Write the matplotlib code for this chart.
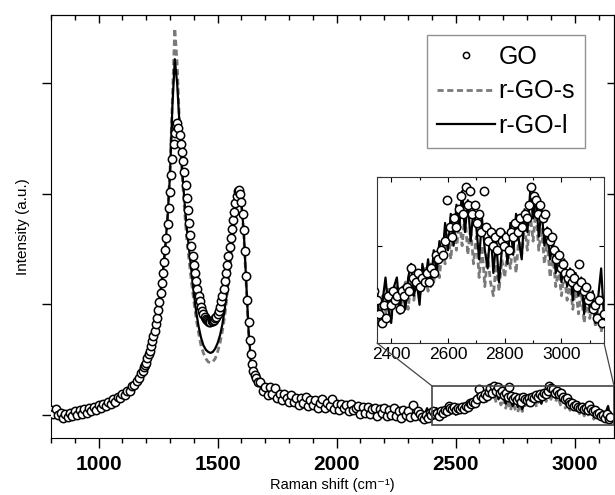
import numpy as np
import matplotlib
matplotlib.use('Agg')
import matplotlib.pyplot as plt
from matplotlib.ticker import MultipleLocator, NullFormatter
from matplotlib.patches import Rectangle, ConnectionPatch

plt.rcParams['font.family'] = ['Liberation Sans', 'DejaVu Sans']

# Raman shift sample grids (cm^-1), finer across the D/G band region
go_x = np.concatenate([np.arange(800, 1181, 10), np.arange(1185, 1661, 5),
                       np.arange(1670, 2341, 10), np.arange(2350, 3151, 8)])
rgo_x = np.concatenate([np.arange(800, 1181, 20), np.arange(1190, 1661, 10),
                        np.arange(1680, 2341, 20), np.arange(2350, 3151, 10)])

# GO intensities (a.u.)
go_a = [0.04, 0.01, 0.05, 0.00, 0.02, -0.03, 0.01, -0.02, 0.02, -0.01,
        0.03, 0.00, 0.04, 0.01, 0.05, 0.02, 0.06, 0.03, 0.07, 0.04,
        0.09, 0.06, 0.10, 0.08, 0.12, 0.10, 0.14, 0.12, 0.16, 0.15,
        0.19, 0.18, 0.22, 0.22, 0.26, 0.27, 0.31, 0.33, 0.38]
go_b = [0.40, 0.43, 0.45, 0.47, 0.51, 0.55, 0.58, 0.62, 0.67, 0.71,
        0.76, 0.82, 0.88, 0.95, 1.02, 1.10, 1.19, 1.28, 1.38, 1.49,
        1.60, 1.73, 1.87, 2.02, 2.17, 2.32, 2.45, 2.55, 2.62, 2.64,
        2.60, 2.53, 2.45, 2.38, 2.30, 2.20, 2.08, 1.96, 1.85, 1.74,
        1.63, 1.53, 1.44, 1.36, 1.28, 1.21, 1.14, 1.08, 1.03, 0.98,
        0.94, 0.91, 0.89, 0.87, 0.86, 0.85, 0.84, 0.84, 0.85, 0.85,
        0.86, 0.88, 0.89, 0.91, 0.94, 0.98, 1.03, 1.08, 1.14, 1.21,
        1.28, 1.36, 1.44, 1.52, 1.60, 1.68, 1.76, 1.84, 1.92, 1.98,
        2.03, 2.04, 2.00, 1.93, 1.82, 1.67, 1.48, 1.26, 1.04, 0.84,
        0.68, 0.55, 0.46, 0.40, 0.36, 0.33]
go_c = [0.30, 0.30, 0.22, 0.25, 0.18, 0.25, 0.19, 0.24, 0.15, 0.19,
        0.13, 0.19, 0.15, 0.12, 0.18, 0.12, 0.15, 0.09, 0.15, 0.11,
        0.16, 0.08, 0.13, 0.09, 0.13, 0.06, 0.11, 0.14, 0.06, 0.11,
        0.08, 0.14, 0.05, 0.10, 0.04, 0.10, 0.06, 0.09, 0.03, 0.10,
        0.04, 0.06, 0.08, 0.01, 0.07, 0.02, 0.07, 0.01, 0.05, 0.06,
        -0.01, 0.05, 0.02, 0.06, -0.01, 0.04, 0.00, 0.06, -0.01, 0.03,
        -0.03, 0.04, 0.00, 0.03, -0.02, 0.09, -0.01, 0.03]
go_d = [0.01, -0.02, -0.04, 0.00, -0.03, 0.02, 0.00, 0.03, 0.01, 0.02,
        -0.01, 0.03, 0.02, 0.04, 0.03, 0.08, 0.06, 0.05, 0.07, 0.04,
        0.06, 0.05, 0.07, 0.05, 0.08, 0.07, 0.11, 0.10, 0.12, 0.11,
        0.14, 0.23, 0.17, 0.15, 0.19, 0.17, 0.21, 0.24, 0.20, 0.26,
        0.22, 0.25, 0.20, 0.22, 0.18, 0.20, 0.16, 0.25, 0.17, 0.14,
        0.16, 0.13, 0.15, 0.12, 0.16, 0.14, 0.13, 0.15, 0.12, 0.16,
        0.15, 0.18, 0.16, 0.19, 0.17, 0.20, 0.19, 0.22, 0.26, 0.24,
        0.23, 0.20, 0.22, 0.19, 0.20, 0.16, 0.14, 0.15, 0.12, 0.10,
        0.11, 0.08, 0.09, 0.07, 0.06, 0.07, 0.05, 0.06, 0.04, 0.09,
        0.05, 0.03, 0.04, 0.01, 0.02, -0.01, 0.00, -0.03, 0.01, -0.04,
        -0.02]

# r-GO-l intensities
rgol_a = [0.02, 0.01, -0.01, 0.00, 0.00, 0.02, 0.02, 0.03, 0.05, 0.06,
          0.07, 0.09, 0.10, 0.13, 0.15, 0.18, 0.21, 0.26, 0.31, 0.38]
rgol_b = [0.42, 0.47, 0.55, 0.63, 0.72, 0.83, 0.96, 1.12, 1.30, 1.52,
          1.80, 2.18, 2.80, 3.22, 3.00, 2.62, 2.25, 1.95, 1.70, 1.50,
          1.30, 1.10, 0.93, 0.80, 0.70, 0.63, 0.59, 0.57, 0.56, 0.57,
          0.60, 0.65, 0.72, 0.82, 0.96, 1.13, 1.34, 1.57, 1.78, 1.95,
          2.02, 1.92, 1.65, 1.20, 0.76, 0.48, 0.36, 0.30]
rgol_c = [0.26, 0.21, 0.19, 0.16, 0.15, 0.13, 0.11, 0.10, 0.09, 0.08,
          0.07, 0.08, 0.06, 0.07, 0.05, 0.06, 0.05, 0.04, 0.05, 0.03,
          0.04, 0.02, 0.03, 0.02, 0.02, 0.01, 0.02, 0.00, 0.01, 0.00,
          0.01, -0.01, 0.07, 0.00]
rgol_d = [0.03, -0.04, 0.01, 0.06, -0.01, -0.04, 0.04, 0.06, -0.01, 0.04,
          -0.01, 0.06, 0.09, 0.02, 0.05, 0.00, 0.09, 0.05, 0.10, 0.04,
          0.12, 0.07, 0.14, 0.10, 0.18, 0.12, 0.20, 0.13, 0.22, 0.17,
          0.25, 0.16, 0.23, 0.14, 0.21, 0.17, 0.10, 0.19, 0.12, 0.08,
          0.17, 0.07, 0.14, 0.05, 0.12, 0.16, 0.09, 0.18, 0.11, 0.20,
          0.14, 0.10, 0.21, 0.16, 0.25, 0.19, 0.24, 0.15, 0.21, 0.13,
          0.17, 0.10, 0.14, 0.07, 0.12, 0.05, 0.10, 0.04, 0.08, 0.01,
          0.07, 0.02, 0.06, -0.02, 0.04, -0.01, 0.03, -0.04, 0.02, 0.08,
          -0.03]

# r-GO-s intensities
rgos_a = [0.03, 0.02, 0.00, -0.01, 0.01, 0.01, 0.03, 0.03, 0.04, 0.06,
          0.06, 0.08, 0.10, 0.12, 0.14, 0.17, 0.20, 0.25, 0.30, 0.37]
rgos_b = [0.41, 0.46, 0.53, 0.61, 0.70, 0.81, 0.94, 1.10, 1.28, 1.50,
          1.80, 2.22, 2.85, 3.50, 3.18, 2.62, 2.20, 1.88, 1.60, 1.40,
          1.20, 1.03, 0.87, 0.74, 0.63, 0.56, 0.51, 0.48, 0.47, 0.48,
          0.51, 0.57, 0.65, 0.76, 0.90, 1.08, 1.30, 1.54, 1.76, 1.94,
          2.02, 1.90, 1.62, 1.17, 0.74, 0.46, 0.34, 0.28]
rgos_c = [0.25, 0.20, 0.18, 0.15, 0.14, 0.12, 0.10, 0.09, 0.08, 0.07,
          0.06, 0.07, 0.05, 0.06, 0.04, 0.05, 0.04, 0.03, 0.04, 0.02,
          0.03, 0.01, 0.02, 0.01, 0.01, 0.00, 0.01, -0.01, 0.00, -0.01,
          0.00, -0.02, 0.02, -0.01]
rgos_d = [0.01, -0.05, 0.02, -0.02, 0.04, -0.03, 0.01, 0.04, -0.02, 0.02,
          0.05, -0.01, 0.06, 0.01, 0.07, 0.02, 0.05, 0.08, 0.03, 0.09,
          0.05, 0.11, 0.06, 0.13, 0.09, 0.16, 0.10, 0.17, 0.12, 0.19,
          0.13, 0.20, 0.11, 0.17, 0.09, 0.15, 0.06, 0.13, 0.04, 0.11,
          0.05, 0.02, 0.09, 0.03, 0.10, 0.06, 0.12, 0.08, 0.14, 0.07,
          0.15, 0.11, 0.17, 0.12, 0.20, 0.14, 0.21, 0.12, 0.17, 0.09,
          0.14, 0.06, 0.11, 0.04, 0.08, 0.02, 0.07, 0.01, 0.05, -0.01,
          0.04, -0.02, 0.03, -0.04, 0.01, -0.03, 0.02, -0.05, 0.00, -0.06,
          -0.02]

go_y = np.array(go_a + go_b + go_c + go_d)
rgol_y = np.array(rgol_a + rgol_b + rgol_c + rgol_d)
rgos_y = np.array(rgos_a + rgos_b + rgos_c + rgos_d)

XMIN, XMAX = 800, 3165
ZOOM_X = (2400, XMAX)
ZOOM_Y = (-0.09, 0.262)


def draw_series(ax, ms):
    ax.plot(rgo_x, rgos_y, color='#7a7a7a', lw=2.0, ls=(0, (2.2, 1.3)), label='r-GO-s', zorder=2)
    ax.plot(rgo_x, rgol_y, color='black', lw=1.6, label='r-GO-l', zorder=3)
    ax.plot(go_x, go_y, ls='none', marker='o', ms=ms, mfc='white', mec='black',
            mew=1.1, label='GO', zorder=4)


fig = plt.figure(figsize=(6.15, 4.95), dpi=100)
ax = fig.add_axes([51 / 615, 57 / 495, 563 / 615, 423 / 495])
draw_series(ax, 6.0)
ax.set_xlim(XMIN, XMAX)
ax.set_ylim(-0.21, 3.62)

ax.xaxis.set_major_locator(MultipleLocator(500))
ax.xaxis.set_minor_locator(MultipleLocator(100))
ax.set_yticks([0, 1, 2, 3])
ax.set_yticklabels([])
ax.tick_params(axis='x', which='major', direction='out', length=7, width=1, pad=5.5,
               labelsize=15)
ax.tick_params(axis='x', which='minor', direction='out', length=3.5, width=1)
ax.tick_params(axis='y', direction='out', length=6.5, width=1)
for lab in ax.get_xticklabels():
    lab.set_fontweight('bold')

top = ax.secondary_xaxis('top')
top.xaxis.set_major_locator(MultipleLocator(500))
top.xaxis.set_minor_locator(MultipleLocator(100))
top.xaxis.set_major_formatter(NullFormatter())
top.tick_params(which='major', direction='in', length=6, width=1)
top.tick_params(which='minor', direction='in', length=3.5, width=1)

right = ax.secondary_yaxis('right')
right.set_yticks([0, 1, 2, 3])
right.yaxis.set_major_formatter(NullFormatter())
right.tick_params(direction='in', length=5, width=1)

ax.set_xlabel('Raman shift (cm\u207b\u00b9)', fontsize=10.5)
ax.xaxis.set_label_coords(0.5, -0.094)
ax.set_ylabel('Intensity (a.u.)', fontsize=11, labelpad=5)

leg = ax.legend(handles=[ax.lines[2], ax.lines[0], ax.lines[1]],
                loc='upper right', bbox_to_anchor=(0.9485, 0.953), borderaxespad=0,
                fontsize=18, frameon=True, fancybox=False, edgecolor='#777777',
                handlelength=2.3, handletextpad=0.15, labelspacing=0.42,
                borderpad=0.4, markerscale=0.75, numpoints=1)
leg.get_frame().set_linewidth(1.0)

# zoom box on the main plot
ax.add_patch(Rectangle((ZOOM_X[0], ZOOM_Y[0]), ZOOM_X[1] - ZOOM_X[0], ZOOM_Y[1] - ZOOM_Y[0],
                       fill=False, ec='#444444', lw=1.2, zorder=5))

# inset
inax = fig.add_axes([377 / 615, 152 / 495, 227 / 615, 166 / 495])
draw_series(inax, 6.0)
inax.set_xlim(2350, 3150)
inax.set_ylim(-0.084, 0.281)
inax.xaxis.set_major_locator(MultipleLocator(200))
inax.xaxis.set_minor_locator(MultipleLocator(100))
inax.set_yticks([-0.02, 0.13, 0.28])
inax.set_yticklabels([])
inax.tick_params(which='both', direction='in', top=True, right=True, width=0.8,
                 labelsize=12.5, pad=3)
inax.tick_params(which='major', length=3.5)
inax.tick_params(which='minor', length=2)
for sp in inax.spines.values():
    sp.set_color('#333333')

for xa, xb in [((0, 0), (ZOOM_X[0], ZOOM_Y[1])), ((1, 0), (ZOOM_X[1], ZOOM_Y[1]))]:
    con = ConnectionPatch(xyA=xa, coordsA=inax.transAxes, xyB=xb, coordsB=ax.transData,
                          color='#444444', lw=0.9)
    fig.add_artist(con)

fig.savefig('out.png', dpi=100)
